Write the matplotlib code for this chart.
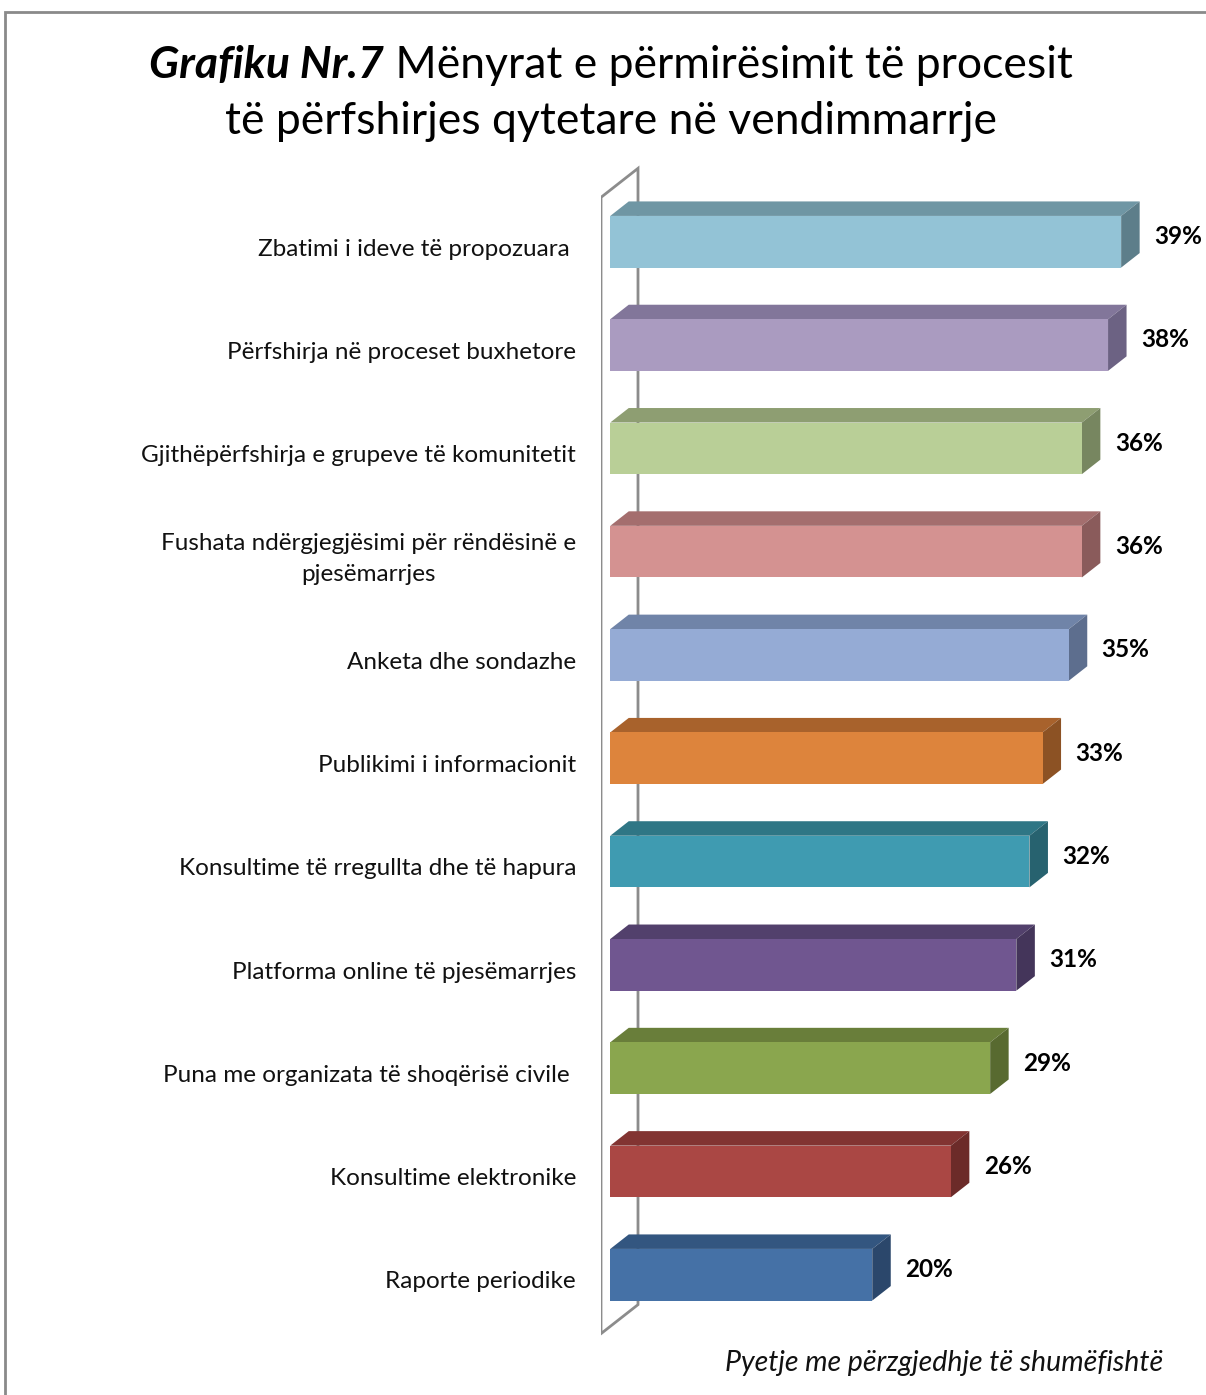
import numpy as np
import matplotlib.pyplot as plt
from matplotlib.patches import Polygon, Rectangle

categories = [
    "Zbatimi i ideve të propozuara ",
    "Përfshirja në proceset buxhetore",
    "Gjithëpërfshirja e grupeve të komunitetit",
    "Fushata ndërgjegjësimi për rëndësinë e\npjesëmarrjes",
    "Anketa dhe sondazhe",
    "Publikimi i informacionit",
    "Konsultime të rregullta dhe të hapura",
    "Platforma online të pjesëmarrjes",
    "Puna me organizata të shoqërisë civile ",
    "Konsultime elektronike",
    "Raporte periodike",
]
values = [39, 38, 36, 36, 35, 33, 32, 31, 29, 26, 20]

# front, top, side colours for each bar
front = ["#93C3D6", "#AA9BC0", "#B9CF97", "#D49291", "#95ABD5", "#DD843C",
         "#3F9BB1", "#705690", "#8AA64E", "#AA4744", "#4571A6"]
top = ["#6F96A4", "#82769A", "#8E9E72", "#A46E6E", "#7084A8", "#A8622C",
       "#2F7685", "#52406C", "#697E3A", "#823432", "#335680"]
side = ["#5D7E8A", "#6C6283", "#778660", "#8A5B5B", "#5D6E8E", "#8C5224",
        "#27626F", "#44355A", "#586A30", "#6C2B29", "#2B476B"]

W, H = 1206, 1395
plt.rcParams['font.family'] = ['Lato', 'DejaVu Sans']
fig = plt.figure(figsize=(W / 100, H / 100), dpi=100)

# outer border
fig.patches.append(Rectangle((5 / W, -0.1), 1.1, (H - 12) / H + 0.1,
                             transform=fig.transFigure, fill=False,
                             edgecolor="#8A8A8A", lw=2))

px_pct = 13.1      # pixels per percent
px_cat = 103.3     # pixels per category
x0, y0 = 601, 249  # pixel of value 0 / first category at the front plane
ax_top, ax_bot = 160, 1345
ax = fig.add_axes([x0 / W, (H - ax_bot) / H, (W - x0) / W, (ax_bot - ax_top) / H])
ax.set_xlim(0, (W - x0) / px_pct)
ax.set_ylim((ax_bot - y0) / px_cat, (ax_top - y0) / px_cat)
ax.axis("off")

Dx = 37 / px_pct   # depth offset
Dy = 29 / px_cat
n = len(values)

# wall
wall = [(0, n - 0.5), (0, -0.5), (Dx, -0.5 - Dy), (Dx, n - 0.5 - Dy)]
ax.add_patch(Polygon(wall, closed=True, facecolor="white", edgecolor="#8C8C8C",
                     lw=2, zorder=1))

hb = 0.25
for i, v in enumerate(values):
    fx, fy = 0.25 * Dx, 0.25 * Dy
    bx, by = 0.75 * Dx, 0.75 * Dy
    yt, yb = i - hb, i + hb
    ax.add_patch(Polygon([(fx, yt - fy), (v + fx, yt - fy), (v + bx, yt - by), (bx, yt - by)],
                         closed=True, facecolor=top[i], edgecolor="none", zorder=3))
    ax.add_patch(Polygon([(v + fx, yt - fy), (v + fx, yb - fy), (v + bx, yb - by), (v + bx, yt - by)],
                         closed=True, facecolor=side[i], edgecolor="none", zorder=3))
    ax.add_patch(Rectangle((fx, yt - fy), v, yb - yt, facecolor=front[i],
                           edgecolor="none", zorder=4))
    ax.text(v + bx + 1.1, i - 0.12, f"{v}%", fontsize=17.5, fontweight="bold",
            ha="left", va="center", color="black")
    ax.text(-1.9, i, categories[i], fontsize=17.5, ha="right", va="center",
            multialignment="center", color="#111111", clip_on=False,
            linespacing=1.6)

# title, mixed styles on first line
r = fig.canvas.get_renderer()
t1 = fig.text(0, 1 - 65 / H, "Grafiku Nr.7", fontsize=32, fontweight="bold",
              fontstyle="italic", va="center")
t2 = fig.text(0, 1 - 65 / H, " Mënyrat e përmirësimit të procesit", fontsize=32,
              va="center")
w1 = t1.get_window_extent(r).width
w2 = t2.get_window_extent(r).width
start = 611 - (w1 + w2) / 2
t1.set_x(start / W)
t2.set_x((start + w1) / W)
fig.text(611 / W, 1 - 122 / H, "të përfshirjes qytetare në vendimmarrje",
         fontsize=32, ha="center", va="center")

fig.text(1163 / W, 1 - 1363 / H, "Pyetje me përzgjedhje të shumëfishtë",
         fontsize=20.5, fontstyle="italic", ha="right", va="center", color="#111111")

fig.savefig("out.png", dpi=100)
